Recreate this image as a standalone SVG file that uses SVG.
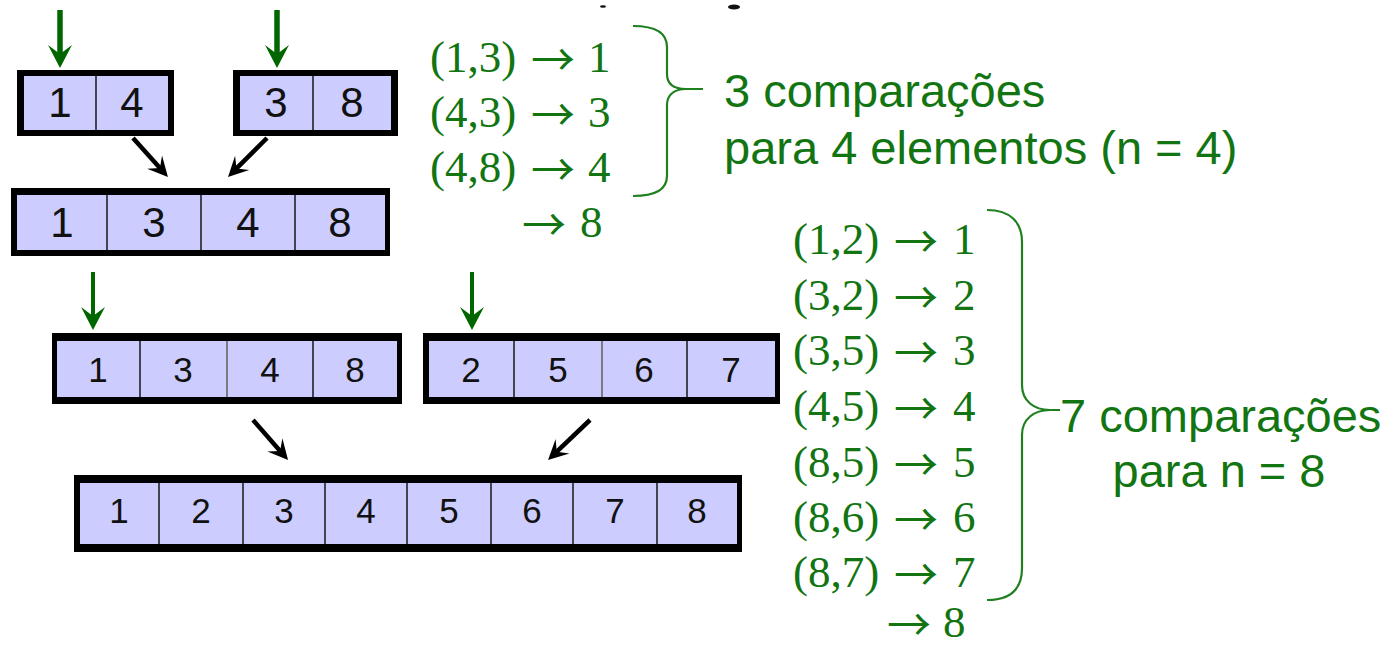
<svg xmlns="http://www.w3.org/2000/svg" width="1385" height="647" viewBox="0 0 1385 647">
  <style>
    .frame { fill: #000000; }
    .cell { fill: #ccccff; }
    .div { stroke: #222222; stroke-width: 1.6; }
    .div2 { stroke: #666666; stroke-width: 1.6; }
    .num { font-family: "Liberation Sans", Arial, sans-serif; fill: #111111; text-anchor: middle; }
    .big { font-size: 42px; }
    .small { font-size: 35px; }
    .step { font-family: "Liberation Serif", "Times New Roman", serif; font-size: 45px; fill: #127512; }
    .arw { font-family: "Noto Sans CJK SC", "DejaVu Sans", sans-serif; font-size: 44px; }
    .note { font-family: "Liberation Sans", Arial, sans-serif; font-size: 47px; fill: #127512; }
    .brace { fill: none; stroke: #1f801f; stroke-width: 2.2; }
    .push { stroke: #006600; fill: none; }
    .merge { stroke: #000000; stroke-width: 4.5; fill: none; }
  </style>
  <defs>
    <marker id="greenHead" markerUnits="userSpaceOnUse" viewBox="-24 -13 26 26" refX="-14" refY="0" markerWidth="26" markerHeight="26" orient="auto">
      <path d="M0,0 L-23,-12 L-14,0 L-23,12 Z" fill="#006600"/>
    </marker>
    <marker id="blackHead" markerUnits="userSpaceOnUse" viewBox="-22 -12 24 24" refX="-11" refY="0" markerWidth="24" markerHeight="24" orient="auto">
      <path d="M0,0 L-20,-10 L-12,0 L-20,10 Z" fill="#000000"/>
    </marker>
  </defs>

  <rect width="1385" height="647" fill="#ffffff"/>

  <!-- clipped remnants along the top edge -->
  <g id="top-marks" fill="#111111">
    <ellipse cx="603" cy="6.5" rx="3" ry="1.3"/>
    <ellipse cx="734" cy="7" rx="6" ry="2.5"/>
  </g>

  <!-- level 1: two runs of two -->
  <g id="run-1-4">
    <rect class="frame" x="17" y="70" width="157" height="66"/>
    <rect class="cell" x="24" y="76" width="144" height="54"/>
    <line class="div" x1="96" y1="76" x2="96" y2="130"/>
    <text class="num big" x="60" y="117">1</text>
    <text class="num big" x="132" y="117">4</text>
  </g>
  <g id="run-3-8">
    <rect class="frame" x="233" y="70" width="165" height="66"/>
    <rect class="cell" x="240" y="76" width="151" height="54"/>
    <line class="div" x1="313" y1="76" x2="313" y2="130"/>
    <text class="num big" x="276" y="117">3</text>
    <text class="num big" x="352" y="117">8</text>
  </g>

  <!-- level 2: merged run of four -->
  <g id="run-1-3-4-8">
    <rect class="frame" x="11" y="188" width="379" height="68"/>
    <rect class="cell" x="17" y="195" width="368" height="55"/>
    <line class="div" x1="107" y1="195" x2="107" y2="250"/>
    <line class="div" x1="201" y1="195" x2="201" y2="250"/>
    <line class="div" x1="295" y1="195" x2="295" y2="250"/>
    <text class="num big" x="62" y="237">1</text>
    <text class="num big" x="154" y="237">3</text>
    <text class="num big" x="248" y="237">4</text>
    <text class="num big" x="340" y="237">8</text>
  </g>

  <!-- level 3: two runs of four -->
  <g id="run-left">
    <rect class="frame" x="52" y="333" width="350" height="71"/>
    <rect class="cell" x="57" y="341" width="340" height="56"/>
    <line class="div" x1="140" y1="341" x2="140" y2="397"/>
    <line class="div2" x1="227" y1="341" x2="227" y2="397"/>
    <line class="div" x1="313" y1="341" x2="313" y2="397"/>
    <text class="num small" x="98" y="382">1</text>
    <text class="num small" x="183" y="382">3</text>
    <text class="num small" x="270" y="382">4</text>
    <text class="num small" x="355" y="382">8</text>
  </g>
  <g id="run-right">
    <rect class="frame" x="423" y="333" width="357" height="71"/>
    <rect class="cell" x="429" y="341" width="346" height="56"/>
    <line class="div" x1="514" y1="341" x2="514" y2="397"/>
    <line class="div2" x1="602" y1="341" x2="602" y2="397"/>
    <line class="div" x1="687" y1="341" x2="687" y2="397"/>
    <text class="num small" x="471" y="382">2</text>
    <text class="num small" x="558" y="382">5</text>
    <text class="num small" x="644" y="382">6</text>
    <text class="num small" x="731" y="382">7</text>
  </g>

  <!-- level 4: merged run of eight -->
  <g id="run-eight">
    <rect class="frame" x="74" y="475" width="668" height="77"/>
    <rect class="cell" x="80" y="483" width="657" height="61"/>
    <line class="div" x1="159" y1="483" x2="159" y2="544"/>
    <line class="div" x1="243" y1="483" x2="243" y2="544"/>
    <line class="div" x1="325" y1="483" x2="325" y2="544"/>
    <line class="div" x1="407" y1="483" x2="407" y2="544"/>
    <line class="div" x1="491" y1="483" x2="491" y2="544"/>
    <line class="div" x1="573" y1="483" x2="573" y2="544"/>
    <line class="div" x1="657" y1="483" x2="657" y2="544"/>
    <text class="num small" x="119" y="523">1</text>
    <text class="num small" x="201" y="523">2</text>
    <text class="num small" x="284" y="523">3</text>
    <text class="num small" x="366" y="523">4</text>
    <text class="num small" x="449" y="523">5</text>
    <text class="num small" x="532" y="523">6</text>
    <text class="num small" x="615" y="523">7</text>
    <text class="num small" x="697" y="523">8</text>
  </g>

  <!-- connectors: green read pointers and black merge arrows -->
  <g id="connectors">
    <line class="push" stroke-width="5.5" x1="60" y1="10" x2="60" y2="54" marker-end="url(#greenHead)"/>
    <line class="push" stroke-width="5.5" x1="277" y1="10" x2="277" y2="54" marker-end="url(#greenHead)"/>
    <line class="push" stroke-width="4" x1="93" y1="272" x2="93" y2="316" marker-end="url(#greenHead)"/>
    <line class="push" stroke-width="4" x1="472" y1="272" x2="472" y2="316" marker-end="url(#greenHead)"/>

    <line class="merge" x1="133" y1="138" x2="160.6" y2="168.8" marker-end="url(#blackHead)"/>
    <line class="merge" x1="267" y1="138" x2="235.8" y2="169.2" marker-end="url(#blackHead)"/>
    <line class="merge" x1="253" y1="420" x2="280.8" y2="451.7" marker-end="url(#blackHead)"/>
    <line class="merge" x1="590" y1="420" x2="556" y2="452.4" marker-end="url(#blackHead)"/>
  </g>

  <!-- comparisons for the merge of four -->
  <g id="steps-four" class="step">
    <text y="72"><tspan x="430">(1,3)</tspan><tspan class="arw" x="531" dy="4">→</tspan><tspan x="588" dy="-4">1</tspan></text>
    <text y="127"><tspan x="430">(4,3)</tspan><tspan class="arw" x="531" dy="4">→</tspan><tspan x="588" dy="-4">3</tspan></text>
    <text y="182"><tspan x="430">(4,8)</tspan><tspan class="arw" x="531" dy="4">→</tspan><tspan x="588" dy="-4">4</tspan></text>
    <text y="237"><tspan class="arw" x="522" dy="4">→</tspan><tspan x="580" dy="-4">8</tspan></text>
  </g>
  <path id="brace-four" class="brace" d="M633,26 C656,26 667,33 667,47 L667,74 C667,84 674,89 686,89 L703,89 M686,89 C674,89 667,95 667,105 L667,176 C667,189 656,196 633,196"/>
  <g id="note-four" class="note">
    <text x="724" y="107">3 comparações</text>
    <text x="724" y="164">para 4 elementos (n = 4)</text>
  </g>

  <!-- comparisons for the merge of eight -->
  <g id="steps-eight" class="step">
    <text y="254"><tspan x="793">(1,2)</tspan><tspan class="arw" x="894" dy="4">→</tspan><tspan x="953" dy="-4">1</tspan></text>
    <text y="310"><tspan x="793">(3,2)</tspan><tspan class="arw" x="894" dy="4">→</tspan><tspan x="953" dy="-4">2</tspan></text>
    <text y="365"><tspan x="793">(3,5)</tspan><tspan class="arw" x="894" dy="4">→</tspan><tspan x="953" dy="-4">3</tspan></text>
    <text y="421"><tspan x="793">(4,5)</tspan><tspan class="arw" x="894" dy="4">→</tspan><tspan x="953" dy="-4">4</tspan></text>
    <text y="477"><tspan x="793">(8,5)</tspan><tspan class="arw" x="894" dy="4">→</tspan><tspan x="953" dy="-4">5</tspan></text>
    <text y="532"><tspan x="793">(8,6)</tspan><tspan class="arw" x="894" dy="4">→</tspan><tspan x="953" dy="-4">6</tspan></text>
    <text y="587"><tspan x="793">(8,7)</tspan><tspan class="arw" x="894" dy="4">→</tspan><tspan x="953" dy="-4">7</tspan></text>
    <text y="637"><tspan class="arw" x="887" dy="4">→</tspan><tspan x="943" dy="-4">8</tspan></text>
  </g>
  <path id="brace-eight" class="brace" d="M987,210 C1010,210 1022,222 1022,242 L1022,385 C1022,401 1034,410 1050,410 L1060,410 M1050,410 C1034,410 1022,419 1022,435 L1022,568 C1022,589 1010,600 987,600"/>
  <g id="note-eight" class="note">
    <text x="1060" y="432">7 comparações</text>
    <text x="1219" y="487" text-anchor="middle">para n = 8</text>
  </g>
</svg>
